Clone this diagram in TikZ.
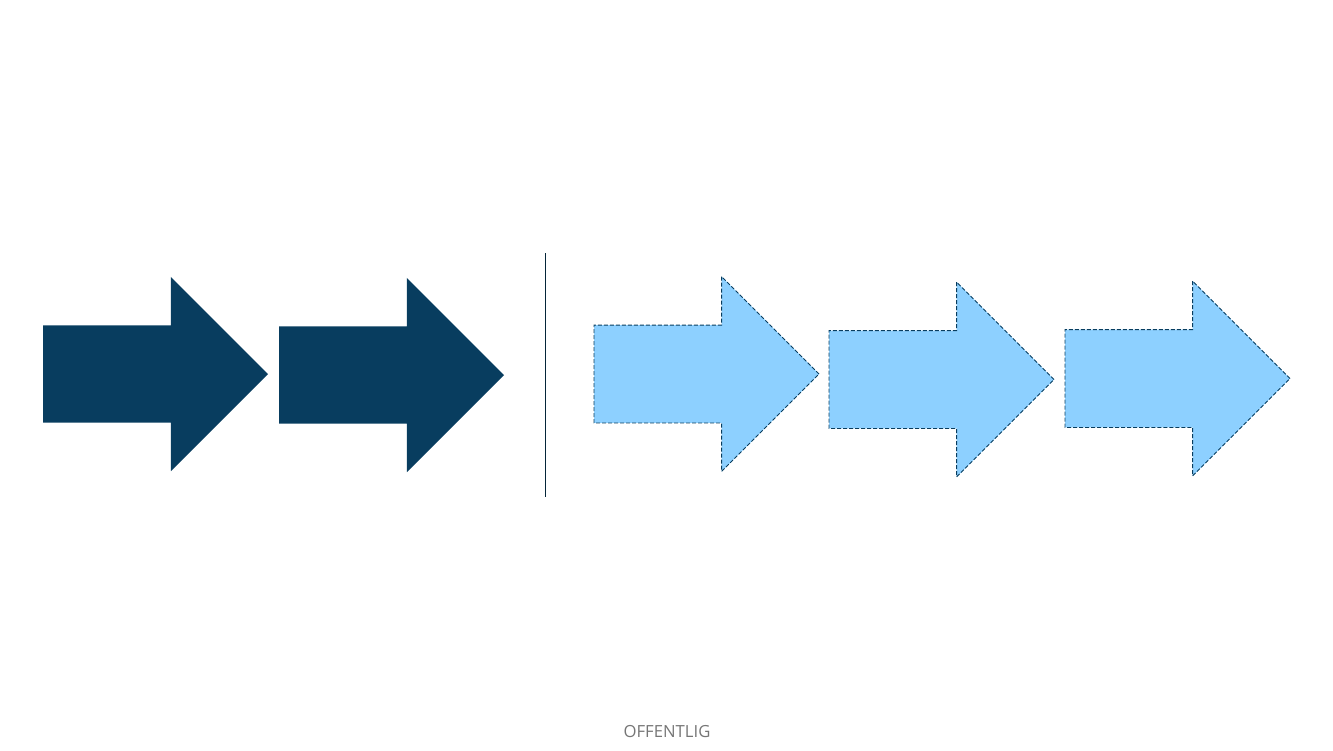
\documentclass[tikz,border=0pt]{standalone}
\usepackage{fontspec}
\setmainfont{Open Sans}
\usetikzlibrary{shapes.arrows}
\definecolor{navy}{HTML}{083D5F}
\definecolor{sky}{HTML}{8DD0FF}
\definecolor{footgray}{HTML}{767676}
\begin{document}
\begin{tikzpicture}[
    x=1pt, y=-1pt,
    blockarrow/.style={single arrow, minimum height=225pt,
        single arrow head extend=48.5pt, single arrow tip angle=90,
        inner xsep=0pt, inner ysep=48.5pt, outer sep=0pt, anchor=tail},
    solidarrow/.style={blockarrow, fill=navy},
    dasharrow/.style={blockarrow, fill=sky, draw=navy, line width=0.9pt,
        dash pattern=on 4pt off 2pt}
]
  \useasboundingbox (0,0) rectangle (1333,750);
  % Solid arrows on the left
  \node[solidarrow] (done1) at (43,374) {};
  \node[solidarrow] (done2) at (279,375) {};

  % Divider
  \coordinate (divtop) at (545,253);
  \coordinate (divbot) at (545,497);
  \draw[navy!60!black, line width=0.8pt] (divtop) -- (divbot);

  % Dashed arrows on the right
  \node[dasharrow] (next1) at (594,374) {};
  \node[dasharrow] (next2) at (829,379.5) {};
  \node[dasharrow] (next3) at (1065,378.5) {};

  \node[text=footgray, font=\fontsize{16.7}{20}\selectfont] (foot) at (667,732) {OFFENTLIG};
\end{tikzpicture}
\end{document}
